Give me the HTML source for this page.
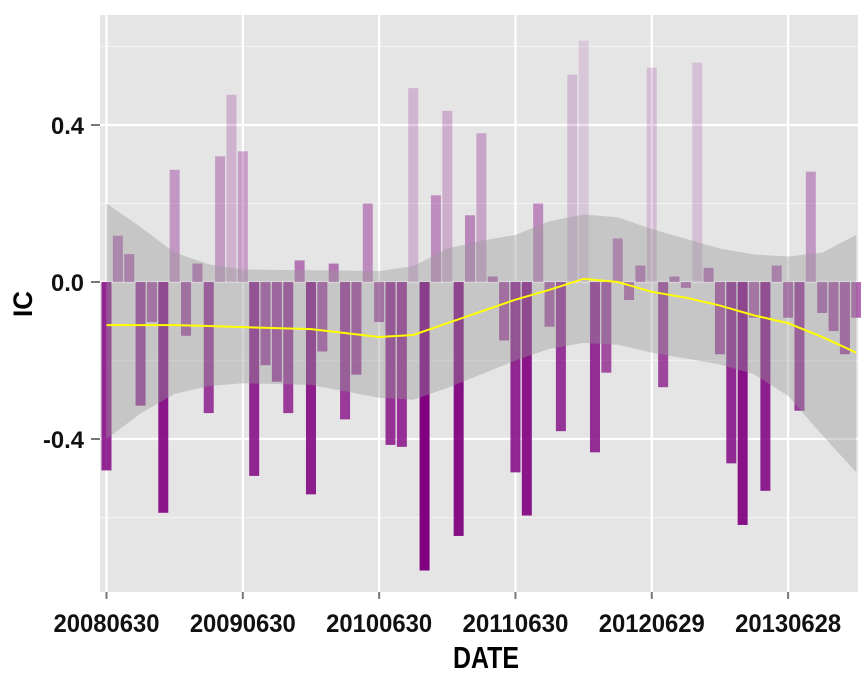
<!DOCTYPE html>
<html><head><meta charset="utf-8"><style>
body{margin:0;background:#fff;}
svg text{font-family:"Liberation Sans",sans-serif;}
</style></head><body>
<svg id="chart" width="861" height="669" xmlns="http://www.w3.org/2000/svg">
<rect x="100" y="15" width="758" height="577" fill="#e5e5e5"/>
<g id="grid"></g><g id="bars"></g><g id="band"></g><g id="line"></g><g id="axes"></g>
<text x="32" y="304" transform="rotate(-90 32 304)" text-anchor="middle" font-size="27" font-weight="bold" fill="#000" textLength="26" lengthAdjust="spacingAndGlyphs">IC</text>
<text x="486" y="668" text-anchor="middle" font-size="31" font-weight="bold" fill="#000" textLength="66" lengthAdjust="spacingAndGlyphs">DATE</text>
</svg>
<script>
const icValues=[-0.48,0.118,0.071,-0.315,-0.102,-0.588,0.286,-0.137,0.047,-0.334,0.32,0.477,0.333,-0.494,-0.212,-0.254,-0.334,0.055,-0.541,-0.177,0.047,-0.35,-0.236,0.2,-0.102,-0.415,-0.42,0.494,-0.735,0.221,0.436,-0.647,0.17,0.379,0.014,-0.149,-0.485,-0.595,0.2,-0.114,-0.38,0.528,0.615,-0.434,-0.231,0.111,-0.046,0.042,0.546,-0.268,0.014,-0.015,0.559,0.036,-0.184,-0.462,-0.619,-0.091,-0.532,0.042,-0.091,-0.328,0.281,-0.079,-0.125,-0.184,-0.091];
const smoothIdx=[0,3,6,9,12,18,24,27,30,33,36,39,42,45,48,51,54,57,60,63,66];
const smoothFit=[-0.11,-0.11,-0.11,-0.112,-0.115,-0.12,-0.14,-0.135,-0.105,-0.075,-0.045,-0.02,0.008,0.0,-0.025,-0.04,-0.06,-0.085,-0.105,-0.14,-0.18];
const smoothUpper=[0.2,0.14,0.075,0.045,0.032,0.03,0.028,0.04,0.085,0.105,0.12,0.155,0.172,0.165,0.135,0.11,0.085,0.07,0.065,0.075,0.12];
const smoothLower=[-0.4,-0.335,-0.285,-0.265,-0.258,-0.262,-0.295,-0.3,-0.27,-0.235,-0.2,-0.17,-0.155,-0.16,-0.18,-0.195,-0.21,-0.235,-0.29,-0.39,-0.485];
const xTickIdx=[0,12,24,36,48,60];
const xTickLabels=["20080630","20090630","20100630","20110630","20120629","20130628"];
const yMajor=[0.4,0,-0.4];
const yMajorLabels=["0.4","0.0","-0.4"];
const yMinor=[0.6,0.2,-0.2,-0.6];

const NS="http://www.w3.org/2000/svg";
const X=i=>106.5+i*11.36;
const Y=v=>282-v*392.5;
function mk(tag,attrs,parent){const e=document.createElementNS(NS,tag);for(const k in attrs)e.setAttribute(k,attrs[k]);document.getElementById(parent).appendChild(e);return e;}

yMinor.forEach(v=>{const e=mk('line',{x1:100,x2:858,y1:Y(v),y2:Y(v),stroke:'#f2f2f2','stroke-width':1.2},'grid');

});
yMajor.forEach(v=>{const e=mk('line',{x1:100,x2:858,y1:Y(v),y2:Y(v),stroke:'#fff','stroke-width':2.2},'grid');

});
xTickIdx.forEach(i=>{const e=mk('line',{x1:X(i),x2:X(i),y1:15,y2:592,stroke:'#fff','stroke-width':2.2},'grid');

});

const vmin=Math.min(...icValues),vmax=Math.max(...icValues);
icValues.forEach((v,i)=>{
 const a=1-(v-vmin)/(vmax-vmin)*0.87;
 const y0=Y(0),y1=Y(v);
 const e=mk('rect',{x:X(i)-5,width:10,y:Math.min(y0,y1),height:Math.abs(y1-y0),fill:'#800080','fill-opacity':a.toFixed(3)},'bars');
 
 
});

let d='M'+smoothIdx.map((i,k)=>X(i)+','+Y(smoothUpper[k])).join('L');
for(let k=smoothIdx.length-1;k>=0;k--)d+='L'+X(smoothIdx[k])+','+Y(smoothLower[k]);
const band=mk('path',{d:d+'Z',fill:'#999','fill-opacity':0.4},'band');


const ln=mk('polyline',{points:smoothIdx.map((i,k)=>X(i)+','+Y(smoothFit[k])).join(' '),fill:'none',stroke:'#ffff00','stroke-width':2},'line');



yMajor.forEach((v,k)=>{
 const t=mk('line',{x1:91,x2:100,y1:Y(v),y2:Y(v),stroke:'#777','stroke-width':2},'axes');
 
 
 const lab=yMajorLabels[k];
 const l=mk('text',{x:84,y:Y(v)+9,'text-anchor':'end','font-size':24,'font-weight':'bold',fill:'#111',textLength:lab.length>3?41:33,lengthAdjust:'spacingAndGlyphs'},'axes');
 l.textContent=lab;
 
 
});
xTickIdx.forEach((i,k)=>{
 const t=mk('line',{x1:X(i),x2:X(i),y1:592,y2:599,stroke:'#777','stroke-width':2},'axes');
 
 
 const l=mk('text',{x:X(i),y:632,'text-anchor':'middle','font-size':25,'font-weight':'bold',fill:'#111',textLength:106,lengthAdjust:'spacingAndGlyphs'},'axes');
 l.textContent=xTickLabels[k];
 
 
});
</script>
</body></html>
